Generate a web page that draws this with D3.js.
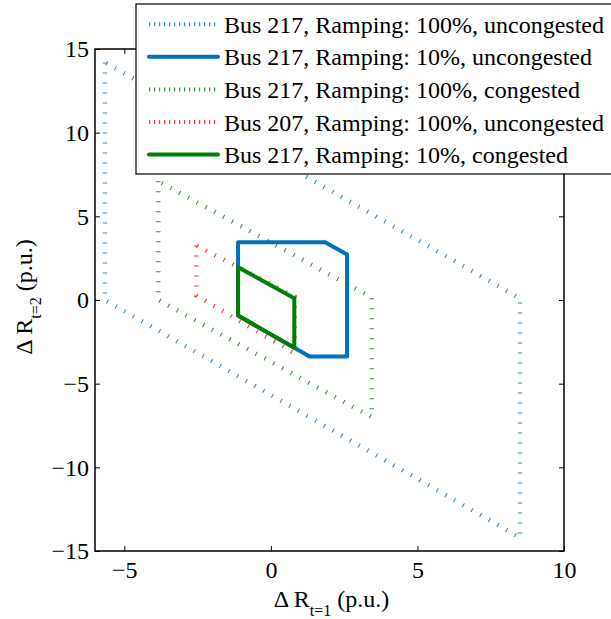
<!DOCTYPE html>
<html>
<head>
<meta charset="utf-8">
<script src="https://cdn.jsdelivr.net/npm/d3@7"></script>
<style>
  html, body { margin: 0; padding: 0; background: #fff; }
  svg { display: block; }
</style>
</head>
<body>
<svg id="chart" width="611" height="619"></svg>
<script>
// ---- data (vertices of each feasible region, in p.u.) ----
const seriesNames = [
  "Bus 217, Ramping: 100%, uncongested",
  "Bus 217, Ramping: 10%, uncongested",
  "Bus 217, Ramping: 100%, congested",
  "Bus 207, Ramping: 100%, uncongested",
  "Bus 217, Ramping: 10%, congested"
];
const bus217Full = [[-5.66, 14.2], [-5.66, 0], [8.5, -14.2], [8.5, 0.1]];
const bus217Ramp10 = [[-1.12, 3.45], [1.85, 3.45], [2.6, 2.72], [2.6, -3.38], [1.32, -3.38], [-1.12, -0.93]];
const bus217FullCong = [[-3.84, 7.1], [-3.84, 0], [3.44, -7.0], [3.44, 0.15]];
const bus207Full = [[-2.54, 3.26], [-2.54, 0.27], [0.81, -3.2], [0.81, 0.2]];
const bus217Ramp10Cong = [[-1.12, 1.96], [0.8, 0.11], [0.8, -2.86], [-1.12, -0.93]];
const seriesData = [bus217Full, bus217Ramp10, bus217FullCong, bus207Full, bus217Ramp10Cong];
const seriesColors = ["#0072BD", "#0072BD", "#008000", "#FF0000", "#008000"];
const seriesDotted = [true, false, true, true, false];
const xTicks = [-5, 0, 5, 10];
const yTicks = [-15, -10, -5, 0, 5, 10, 15];
const xDomain = [-6, 10];
const yDomain = [-15, 15];

// ---- layout ----
const FONT = "'Liberation Serif'";
const svg = d3.select("#chart");
const L = 95, R = 564, T = 49, B = 551;
const x = d3.scaleLinear().domain(xDomain).range([L, R]);
const y = d3.scaleLinear().domain(yDomain).range([B, T]);
const FS = 24;

// series
const line = d3.line().x(d => x(d[0])).y(d => y(d[1]));
seriesData.forEach((pts, i) => {
  const closed = pts.concat([pts[0]]);
  const p = svg.append("path")
    .attr("d", line(closed))
    .attr("fill", "none")
    .attr("stroke", seriesColors[i]);
  if (seriesDotted[i]) {
    p.attr("stroke-width", 4.5).attr("stroke-dasharray", "1.1 8.9").attr("opacity", 0.8);
  } else {
    p.attr("stroke-width", 4).attr("stroke-linejoin", "round").attr("stroke-linecap", "round");
  }
});

// axes (ticks inside, box on)
function styleAxis(g) {
  g.attr("font-family", null).attr("font-size", null);
  g.select(".domain").remove();
  g.selectAll(".tick line").attr("stroke", "#000").attr("stroke-width", 1);
  g.selectAll(".tick text").style("font-size", FS + "px").style("font-family", FONT).attr("fill", "#000");
}
svg.append("g").attr("transform", `translate(0,${B})`)
  .call(d3.axisBottom(x).tickValues(xTicks).tickSizeInner(-5).tickSizeOuter(0).tickPadding(10))
  .call(styleAxis);
svg.append("g").attr("transform", `translate(${L},0)`)
  .call(d3.axisLeft(y).tickValues(yTicks).tickSizeInner(-5).tickSizeOuter(0).tickPadding(6))
  .call(styleAxis);
svg.append("g").attr("transform", `translate(0,${T})`)
  .call(d3.axisTop(x).tickValues(xTicks).tickSizeInner(-5).tickSizeOuter(0).tickFormat(""))
  .call(styleAxis);
svg.append("g").attr("transform", `translate(${R},0)`)
  .call(d3.axisRight(y).tickValues(yTicks).tickSizeInner(-5).tickSizeOuter(0).tickFormat(""))
  .call(styleAxis);
svg.append("rect").attr("x", L).attr("y", T).attr("width", R - L).attr("height", B - T)
  .attr("fill", "none").attr("stroke", "#000").attr("stroke-width", 1.5);

// axis labels
const xl = svg.append("text").attr("x", (L + R) / 2 + 2).attr("y", 607)
  .attr("text-anchor", "middle").style("font-size", FS + "px").style("font-family", FONT);
xl.append("tspan").text("\u0394 R");
xl.append("tspan").style("font-size", "16px").attr("dy", 9).text("t=1");
xl.append("tspan").attr("dy", -9).text(" (p.u.)");

const yl = svg.append("text").attr("transform", `translate(32,${(T + B) / 2 - 3}) rotate(-90)`)
  .attr("text-anchor", "middle").style("font-size", FS + "px").style("font-family", FONT);
yl.append("tspan").text("\u0394 R");
yl.append("tspan").style("font-size", "16px").attr("dy", 9).text("t=2");
yl.append("tspan").attr("dy", -9).text(" (p.u.)");

// legend
const leg = svg.append("g");
leg.append("rect").attr("x", 136).attr("y", 4).attr("width", 490).attr("height", 170)
  .attr("fill", "#fff").attr("stroke", "#000").attr("stroke-width", 1.2);
const rowY = [24.3, 56.8, 89.4, 122, 154.6];
seriesNames.forEach((name, i) => {
  const ly = rowY[i];
  const l = leg.append("line").attr("x1", 149).attr("x2", 218).attr("y1", ly).attr("y2", ly)
    .attr("stroke", seriesColors[i]);
  if (seriesDotted[i]) {
    l.attr("stroke-width", 4).attr("stroke-dasharray", "1.2 3.8").attr("opacity", 0.8);
  } else {
    l.attr("stroke-width", 4).attr("stroke-linecap", "round");
  }
  leg.append("text").attr("x", 224).attr("y", ly + 8.6)
    .style("font-size", FS + "px").style("font-family", FONT).text(name);
});
</script>
</body>
</html>
